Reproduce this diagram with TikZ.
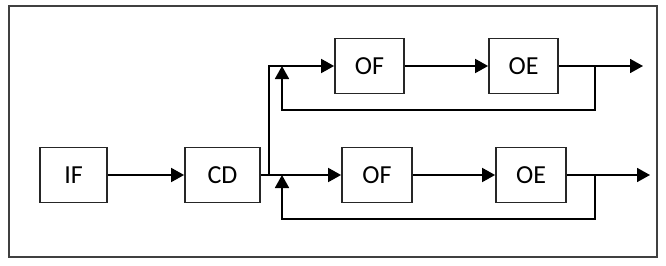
\documentclass[tikz,border=0pt]{standalone}
\usepackage{fontspec}
\setmainfont{Carlito}
\usetikzlibrary{arrows.meta}
\begin{document}
\begin{tikzpicture}[x=1pt,y=-1pt,
  blk/.style={draw=black!85,line width=1.8pt,minimum height=55pt,inner sep=0pt,
    font=\fontsize{26}{30}\selectfont},
  conn/.style={line width=1.8pt,-{Triangle[length=13pt,width=14pt]}},
  ln/.style={line width=1.8pt}]
\useasboundingbox (0,0) rectangle (666,265);
\draw[line width=2pt,black!75] (9,6) rectangle (657,257);
\node[blk,minimum width=67pt] (if) at (73.5,175) {IF};
\node[blk,minimum width=75pt] (cd) at (222.5,175) {CD};
\node[blk,minimum width=69pt] (of1) at (369.5,66) {OF};
\node[blk,minimum width=69pt] (oe1) at (523.5,66) {OE};
\node[blk,minimum width=70pt] (of2) at (377,175) {OF};
\node[blk,minimum width=70pt] (oe2) at (531,175) {OE};
\coordinate (sp) at (269,175);
\coordinate (out1) at (643,66);
\coordinate (out2) at (650,175);
\coordinate (t1) at (595,66);
\coordinate (t2) at (595,175);
\coordinate (f1) at (282,66);
\coordinate (f2) at (282,175);
\draw[conn] (if) -- (cd);
\draw[ln] (cd.east) -- (sp);
\draw[conn] (sp) |- (of1.west);
\draw[conn] (sp) -- (of2.west);
\draw[conn] (of1) -- (oe1);
\draw[conn] (of2) -- (oe2);
\draw[conn] (oe1.east) -- (out1);
\draw[conn] (oe2.east) -- (out2);
\draw[conn] (t1) -- ++(0,44) -| (f1);
\draw[conn] (t2) -- ++(0,44) -| (f2);
\end{tikzpicture}
\end{document}
